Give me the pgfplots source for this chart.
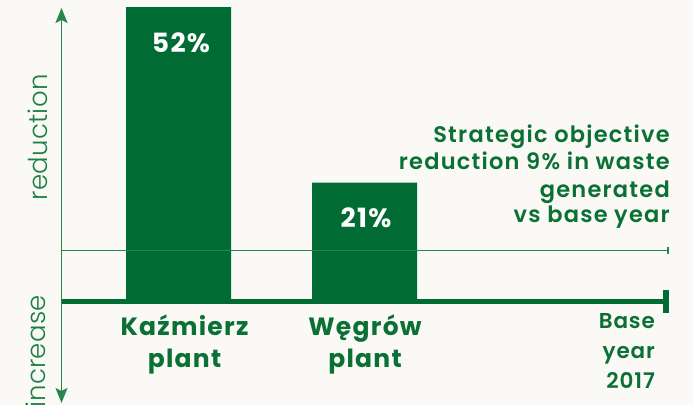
\documentclass[border=0pt]{standalone}
\usepackage{pgfplots}
\pgfplotsset{compat=1.18}
\usetikzlibrary{arrows.meta}
\usepackage{fontspec}
\setmainfont{Poppins}
\IfFontExistsTF{Poppins Light}{\newfontfamily\plight{Poppins Light}[LetterSpace=1]}{\newfontfamily\plight{Poppins}}
\IfFontExistsTF{Poppins SemiBold}{\newfontfamily\psemi{Poppins SemiBold}[LetterSpace=4]}{\newfontfamily\psemi{Poppins}[LetterSpace=4]}
\IfFontExistsTF{Poppins SemiBold}{\newfontfamily\psemiw{Poppins SemiBold}[LetterSpace=5.5]}{\newfontfamily\psemiw{Poppins}[LetterSpace=5.5]}
\newfontfamily\pbold{Poppins}[LetterSpace=5]
\definecolor{bg}{RGB}{250,249,246}
\definecolor{barG}{RGB}{0,108,52}
\definecolor{txtG}{RGB}{10,112,52}
\definecolor{lblG}{RGB}{28,128,66}
\definecolor{axG}{RGB}{38,135,76}
\begin{document}
\begin{tikzpicture}
\begin{axis}[
  width=693pt, height=405pt, scale only axis,
  xmin=0, xmax=693, ymin=-18.28, ymax=53.24,
  axis lines=none, clip=false,
]
\fill[bg] (rel axis cs:0,0) rectangle (rel axis cs:1,1);
% bars
\addplot[ybar, bar width=105, fill=barG, draw=none] coordinates {(178.5,52) (364.5,21)};
% objective line (9%)
\draw[axG, line width=1.8pt] (axis cs:62,9) -- (axis cs:668,9);
\draw[axG, line width=1.5pt] (axis cs:668,8.35) -- (axis cs:668,9.65);
% baseline
\draw[barG, line width=5pt] (axis cs:62,0) -- (axis cs:666,0);
\draw[barG, line width=5.5pt] (axis cs:666,2.03) -- (axis cs:666,-2.03);
% vertical axis with arrows
\draw[axG, line width=1.5pt, {Stealth[length=15pt,width=12pt,inset=3pt]}-{Stealth[length=15pt,width=12pt,inset=3pt]}] (axis cs:61.5,-17.92) -- (axis cs:61.5,51.83);
% value labels
\node[white, anchor=base, inner sep=0pt, font=\fontsize{26.5}{26.5}\selectfont\pbold\bfseries] at (axis cs:181,43.9) {52\%};
\node[white, anchor=base, inner sep=0pt, font=\fontsize{26.5}{26.5}\selectfont\pbold\bfseries] at (axis cs:366,13.1) {21\%};
% category labels
\node[txtG, anchor=base, inner sep=0pt, font=\fontsize{25}{25}\selectfont\pbold\bfseries] at (axis cs:184.5,-5.92) {Kaźmierz};
\node[txtG, anchor=base, inner sep=0pt, font=\fontsize{25}{25}\selectfont\pbold\bfseries] at (axis cs:184.5,-11.74) {plant};
\node[txtG, anchor=base, inner sep=0pt, font=\fontsize{25}{25}\selectfont\pbold\bfseries] at (axis cs:365,-5.92) {Węgrów};
\node[txtG, anchor=base, inner sep=0pt, font=\fontsize{25}{25}\selectfont\pbold\bfseries] at (axis cs:365,-11.74) {plant};
% objective text
\node[txtG, anchor=base east, inner sep=0pt, font=\fontsize{22.5}{22.5}\selectfont\psemiw] at (axis cs:670,27.99) {Strategic objective};
\node[txtG, anchor=base east, inner sep=0pt, font=\fontsize{22.5}{22.5}\selectfont\psemiw] at (axis cs:670,23.22) {reduction 9\% in waste};
\node[txtG, anchor=base east, inner sep=0pt, font=\fontsize{22.5}{22.5}\selectfont\psemiw] at (axis cs:670,18.45) {generated};
\node[txtG, anchor=base east, inner sep=0pt, font=\fontsize{22.5}{22.5}\selectfont\psemiw] at (axis cs:670,13.86) {vs base year};
% base year text
\node[txtG, anchor=base east, inner sep=0pt, font=\fontsize{21.5}{21.5}\selectfont\psemi] at (axis cs:655,-4.86) {Base};
\node[txtG, anchor=base east, inner sep=0pt, font=\fontsize{21.5}{21.5}\selectfont\psemi] at (axis cs:655,-10.07) {year};
\node[txtG, anchor=base east, inner sep=0pt, font=\fontsize{21.5}{21.5}\selectfont\psemi] at (axis cs:655,-15.33) {2017};
% axis direction labels
\node[lblG, rotate=90, anchor=base, inner sep=0pt, font=\fontsize{26}{26}\selectfont\plight] at (axis cs:47,28.96) {reduction};
\node[lblG, rotate=90, anchor=base east, inner sep=0pt, font=\fontsize{26}{26}\selectfont\plight] at (axis cs:46,1.15) {increase};
\end{axis}
\pgfresetboundingbox
\useasboundingbox (current axis.south west) rectangle (current axis.north east);
\end{tikzpicture}
\end{document}
